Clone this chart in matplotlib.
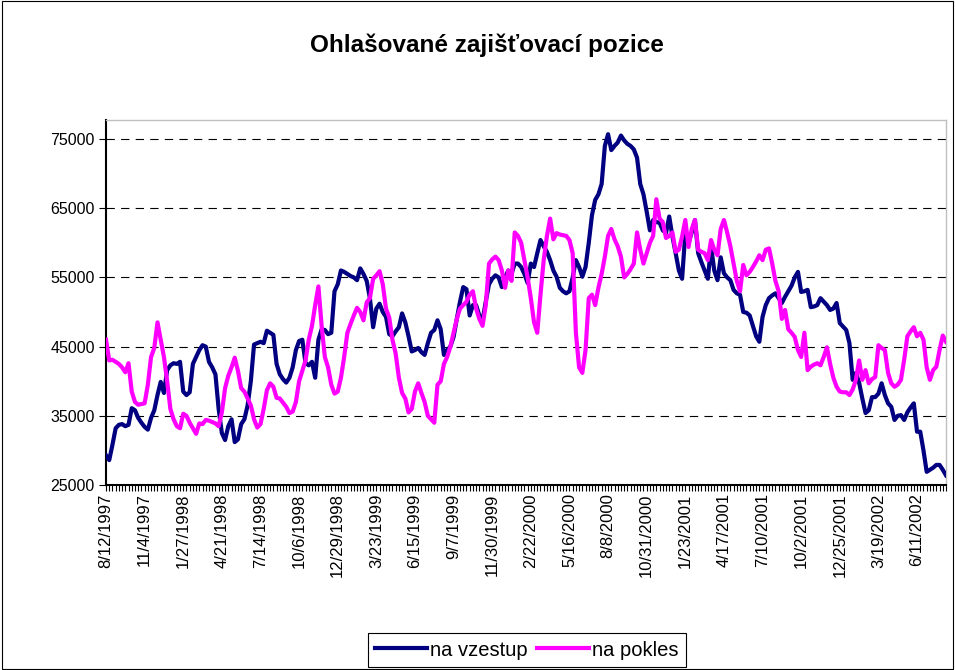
import numpy as np
import pandas as pd
import matplotlib
matplotlib.use("Agg")
from matplotlib import pyplot as plt
from matplotlib.patches import Rectangle

plt.rcParams['font.family'] = ['Liberation Sans', 'DejaVu Sans']
plt.rcParams['lines.scale_dashes'] = False

TITLE = 'Ohlašované zajišťovací pozice'
SERIES_NAMES = ['na vzestup', 'na pokles']

# weekly observations starting 8/12/1997
START = '1997-08-12'

na_vzestup = [
    29300, 28600, 30800, 33200, 33700, 33800, 33500, 33700, 36100, 35800,
    34700, 34000, 33400, 33000, 34700, 35800, 38000, 39900, 38300, 41600,
    42300, 42600, 42500, 42800, 38500, 38000, 38400, 42500, 43500, 44500,
    45200, 45000, 42800, 42000, 41000, 36000, 32500, 31500, 33500, 34500,
    31200, 31600, 33800, 34500, 36500, 40000, 45300, 45500, 45700, 45500,
    47300, 47000, 46700, 42500, 41000, 40300, 39800, 40500, 42000, 44500,
    45800, 46000, 42600, 42300, 42800, 40500, 46000, 47500, 47400, 46800,
    47000, 53000, 54000, 56000, 55800, 55500, 55200, 55000, 54600, 56300,
    55500, 54500, 52000, 47800, 50500, 51200, 50000, 49300, 46800, 46500,
    47200, 47800, 49800, 48500, 46500, 44300, 44500, 44800, 44200, 43800,
    45500, 47000, 47400, 48800, 47500, 43800, 44500, 45000, 46400, 49000,
    51500, 53600, 53300, 49500, 51000, 51000, 49500, 48800, 51500, 54000,
    54800, 55300, 55000, 53600, 55000, 56000, 55500, 57000, 57000, 56500,
    55500, 54200, 57000, 56500, 58500, 60400, 59500, 58700, 57500, 56000,
    55100, 53500, 53000, 52700, 53000, 55000, 57500, 56500, 55100, 56500,
    60000, 64000, 66200, 67000, 68500, 74000, 75700, 73400, 74000, 74500,
    75500, 74800, 74300, 74000, 73500, 72300, 68500, 67000, 64500, 61800,
    63300, 63000, 62900, 61800, 61400, 63800, 60900, 58500, 56000, 54800,
    61400, 60000, 61500, 63300, 58500, 57200, 56000, 54800, 59500, 56000,
    54600, 57900, 55600, 55000, 54600, 53200, 52700, 52500, 50000, 49900,
    49500, 48000, 46500, 45700, 49300, 51000, 52000, 52400, 52700, 52000,
    51300, 52200, 53000, 53800, 55000, 55800, 52900, 53000, 53200, 50700,
    50800, 51000, 52000, 51500, 51000, 50300, 50500, 51300, 48400, 47900,
    47400, 45500, 40200, 41200, 39800, 37500, 35400, 35800, 37700, 37700,
    38200, 39700, 38000, 36800, 36300, 34400, 35000, 35100, 34400, 35500,
    36200, 36800, 32700, 32700, 30000, 26900, 27200, 27500, 27900, 27900,
    27200, 26400,
]

na_pokles = [
    46000, 43000, 43100, 42800, 42500, 42000, 41300, 42600, 38500, 37000,
    36600, 36700, 36800, 39500, 43500, 44800, 48500, 46000, 43500, 40000,
    36000, 34500, 33500, 33200, 35300, 35000, 34000, 33200, 32400, 33900,
    33800, 34400, 34300, 34100, 33900, 33500, 35500, 39000, 40800, 42000,
    43400, 41500, 39000, 38500, 37500, 36500, 34500, 33300, 33800, 36000,
    38700, 39700, 39200, 37600, 37500, 36900, 36300, 35400, 35600, 37000,
    40000, 41500, 43000, 46000, 48000, 51000, 53700, 48000, 43500, 42000,
    39500, 38200, 38500, 40500, 43500, 47000, 48300, 49500, 50600, 50000,
    48800, 51400, 52000, 54800, 55300, 55900, 54000, 50500, 49200, 46000,
    44000, 40500, 38300, 37500, 35500, 36000, 38500, 39700, 38300, 37000,
    35000, 34500, 34000, 39500, 40000, 42500, 43500, 45000, 47000, 49000,
    50500, 51000, 51500, 52500, 53000, 50500, 49000, 48000, 51000, 57000,
    57600, 58000, 57500, 56000, 53500, 56000, 54500, 61500, 61000, 60000,
    57500, 55000, 52000, 48500, 47000, 52500, 57500, 61000, 63500, 60500,
    61400, 61200, 61100, 61000, 60400, 58500, 47000, 42000, 41200, 44500,
    52000, 52500, 51000, 53500, 55500, 58000, 61000, 62000, 60500, 59500,
    58000, 55000, 55500, 56200, 57000, 61500, 59000, 57000, 58500, 60000,
    61000, 66300, 63500, 63000, 60700, 61000, 61500, 58700, 59000, 60900,
    63300, 59400, 62000, 63300, 59000, 58700, 58500, 57500, 60400, 59000,
    58200, 62000, 63300, 61500, 59500, 57000, 54500, 53000, 56800, 55300,
    55800, 56500, 57300, 58200, 57500, 59000, 59200, 57000, 54500, 53000,
    49000, 50300, 47500, 47000, 46400, 44500, 43500, 47000, 41600, 42100,
    42400, 42600, 42300, 43500, 44900, 42500, 40500, 39200, 38500, 38400,
    38400, 38000, 38800, 40200, 43000, 40200, 41600, 39700, 40300, 40600,
    45200, 44800, 44500, 41200, 39700, 39200, 39500, 40200, 43100, 46500,
    47200, 47800, 46500, 47000, 46000, 42000, 40200, 41600, 42100, 44500,
    46600, 45700,
]

assert len(na_vzestup) == len(na_pokles)

dates = pd.date_range(START, periods=len(na_vzestup), freq='7D')
label_every = 12
yticks = [25000, 35000, 45000, 55000, 65000, 75000]

fig = plt.figure(figsize=(9.55, 6.7), dpi=100)
ax = fig.add_axes([106 / 955, 1 - 485 / 670, 840 / 955, 365 / 670])

x = np.arange(len(dates))
ax.plot(x, na_vzestup, color='#000080', lw=3, label=SERIES_NAMES[0], zorder=3)
ax.plot(x, na_pokles, color='#FF00FF', lw=3, label=SERIES_NAMES[1], zorder=3)

ax.set_xlim(0, len(dates) - 1)
ax.set_ylim(25000, 77750)
ax.set_yticks(yticks)
ax.set_yticklabels([str(v) for v in yticks], fontsize=11.5)
for v in yticks[1:]:
    ax.axhline(v, color='black', lw=0.8, dashes=(6, 4.5), zorder=1)

major = x[::label_every]
ax.set_xticks(major)
ax.set_xticklabels([f'{d.month}/{d.day}/{d.year}' for d in dates[::label_every]],
                   rotation=90, fontsize=12)
ax.set_xticks(x, minor=True)
ax.tick_params(axis='x', which='both', direction='out', length=4, width=0.8, pad=2)
ax.tick_params(axis='y', direction='out', length=5, width=0.8, pad=3)

for side in ['left', 'bottom']:
    ax.spines[side].set_linewidth(1.5)
    ax.spines[side].set_color('black')
for side in ['top', 'right']:
    ax.spines[side].set_linewidth(1)
    ax.spines[side].set_color('#c0c0c0')

fig.text(487 / 955, 1 - 45 / 670, TITLE, ha='center', va='center',
         fontsize=17.5, fontweight='bold')

leg = fig.legend(loc='center', bbox_to_anchor=(527 / 955, 1 - 650 / 670), ncol=2,
                 fontsize=14.5, frameon=True, fancybox=False, edgecolor='black',
                 framealpha=1, handlelength=2.6, handletextpad=0.15,
                 columnspacing=0.45, borderpad=0.35)
leg.get_frame().set_linewidth(0.8)

fig.patches.append(Rectangle((0.002, 0.002), 0.996, 0.996, fill=False,
                             edgecolor='black', lw=0.8, transform=fig.transFigure))

fig.savefig('out.png', dpi=100)
